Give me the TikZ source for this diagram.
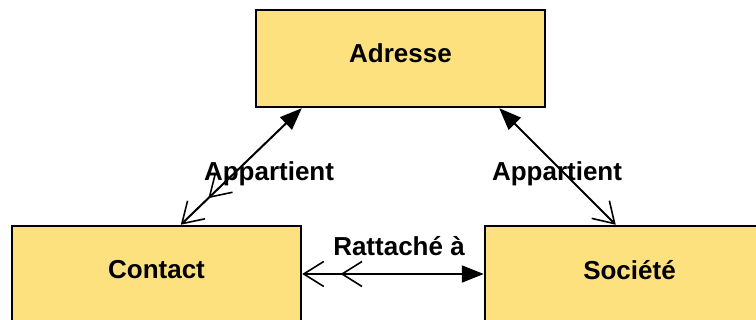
\documentclass[tikz,border=0pt]{standalone}
\usepackage{fontspec}
\setmainfont{Liberation Sans}
\usetikzlibrary{arrows.meta}
\definecolor{boxfill}{HTML}{FDE17F}
\begin{document}
\begin{tikzpicture}[x=1pt,y=-1pt,
  entity/.style={draw=black,line width=2.5pt,fill=boxfill,minimum width=289pt,
    minimum height=97pt,inner sep=0pt,text depth=10pt,
    font=\fontsize{26}{30}\selectfont\bfseries},
  rel/.style={font=\fontsize{26}{30}\selectfont\bfseries,inner sep=0pt},
  link/.style={line width=2pt},
  solid head/.tip={Triangle[length=22pt,width=17pt]},
  open head/.tip={Straight Barb[length=20pt,width=25pt,line width=1.6pt]},
  many head/.tip={Straight Barb[length=20pt,width=25pt,line width=1.6pt,sep=16pt]
    Straight Barb[length=20pt,width=25pt,line width=1.6pt]}]
\clip (0,0) rectangle (756,320);

% entities
\node[entity] (adresse) at (400.5,58.5) {Adresse};
\node[entity] (contact) at (156.5,274.5) {Contact};
\node[entity] (societe) at (629.5,274.5) {Société};

% relation labels
\node[rel] (lab1) at (269,174) {Appartient};
\node[rel] (lab2) at (557,174) {Appartient};
\node[rel] (lab3) at (399,246) {Rattaché à};

% connectors
\draw[link,{many head}-{solid head}]
  ([xshift=170pt]contact.north west) -- ([xshift=47pt]adresse.south west);
\draw[link,{open head}-{solid head}]
  ([xshift=132pt]societe.north west) -- ([xshift=-47pt]adresse.south east);
\draw[link,{many head}-{solid head}]
  ([yshift=0.5pt]contact.east) -- ([yshift=0.5pt]societe.west);
\end{tikzpicture}
\end{document}
